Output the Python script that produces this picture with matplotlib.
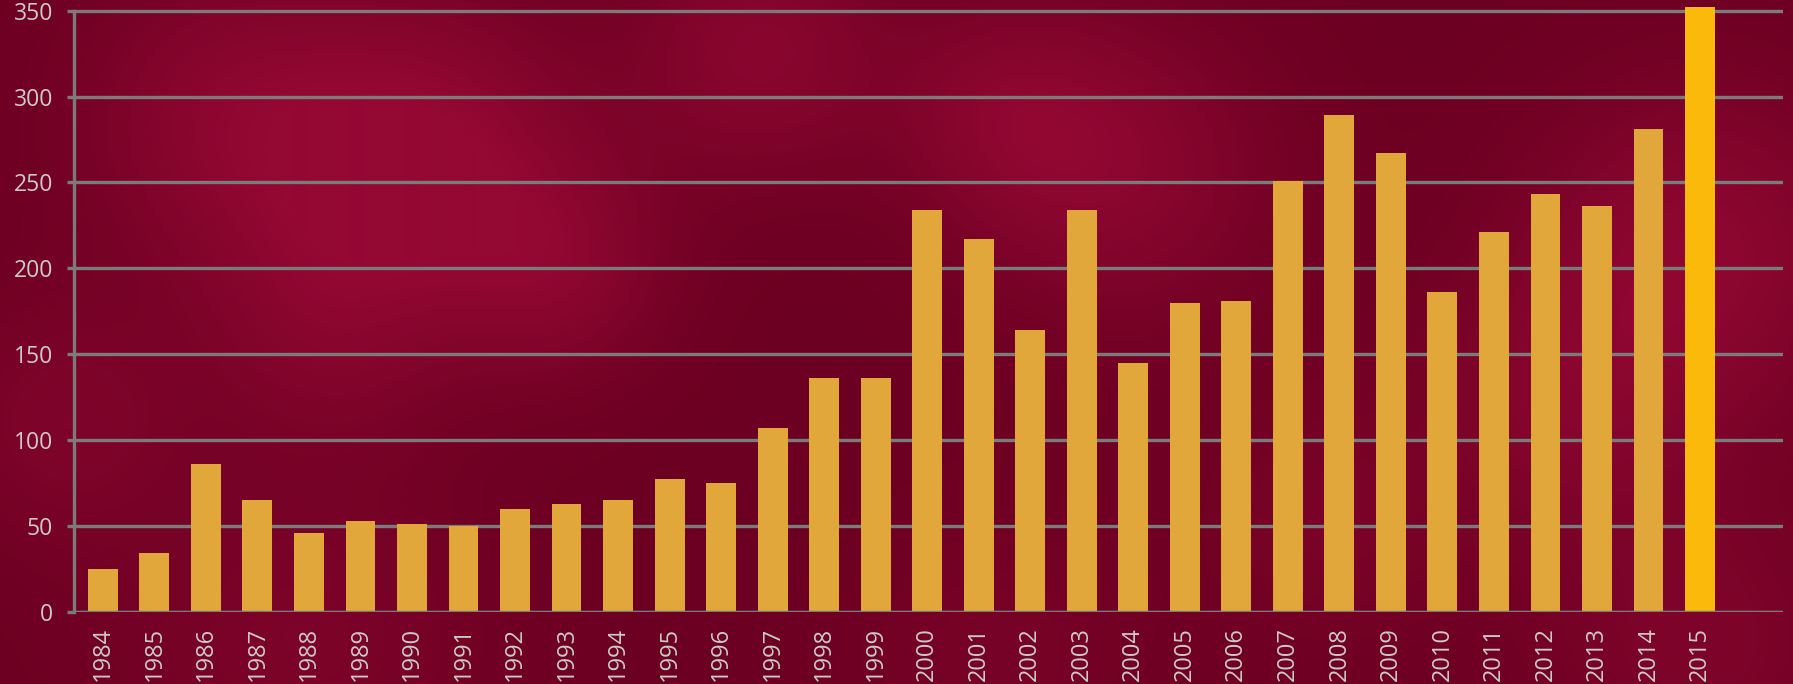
import numpy as np
import matplotlib.pyplot as plt
from matplotlib.colors import LinearSegmentedColormap

years = [str(y) for y in range(1984, 2016)]
counts = [25, 34, 86, 65, 46, 53, 51, 50, 60, 63, 65, 77, 75, 107, 136, 136,
          234, 217, 164, 234, 145, 180, 181, 251, 289, 267, 186, 221, 243, 236,
          281, 352]
yticks = [0, 50, 100, 150, 200, 250, 300, 350]

bar_color = '#e2a73a'
last_color = '#fbb90b'
grid_color = '#7b7b7b'
text_color = '#cdcaca'

plt.rcParams['font.family'] = ['Open Sans', 'DejaVu Sans']

W, H = 1793, 684
fig = plt.figure(figsize=(W / 100, H / 100), dpi=100)

# cloudy crimson backdrop
bg = fig.add_axes([0, 0, 1, 1])
yy, xx = np.mgrid[0:H:2, 0:W:2]
clouds = [(230, 120, 110, 0.7), (430, 150, 110, 0.9), (560, 270, 80, 0.6),
          (330, 320, 90, 0.5), (760, 50, 90, 0.7), (1120, 170, 110, 0.7),
          (1000, 110, 80, 0.5), (1700, 250, 120, 0.8), (1560, 400, 100, 0.5),
          (300, 640, 130, 0.4), (1700, 640, 110, 0.45), (60, 420, 90, 0.45),
          (1000, 650, 100, 0.3), (1330, 520, 90, 0.35)]
field = np.zeros_like(xx, dtype=float)
for cx, cy, s, a in clouds:
    field += a * np.exp(-((xx - cx) ** 2 + (yy - cy) ** 2) / (2 * s ** 2))
field = np.clip(field, 0, 1)
cmap = LinearSegmentedColormap.from_list('crimson', ['#6c0022', '#940834'])
bg.imshow(field, cmap=cmap, vmin=0, vmax=1, aspect='auto',
          extent=(0, W, H, 0), interpolation='bilinear')
bg.axis('off')

left, right = 74 / W, 1783 / W
bottom, top = 1 - 611.7 / H, 1 - 4.7 / H
ax = fig.add_axes([left, bottom, right - left, top - bottom])
ax.patch.set_alpha(0)

x = np.arange(len(years))
colors = [bar_color] * (len(years) - 1) + [last_color]
ax.bar(x, counts, width=0.58, color=colors, zorder=3)

ax.set_xlim(-0.56, len(years) - 1 + 1.61)
ax.set_ylim(0, 353.5)
ax.set_yticks(yticks)
ax.set_yticklabels([str(t) for t in yticks])
ax.set_xticks(x)
ax.set_xticklabels(years, rotation=90)

ax.yaxis.grid(True, color=grid_color, linewidth=2.4, zorder=1)
ax.xaxis.grid(False)
ax.set_axisbelow(True)

for side in ['top', 'right', 'bottom']:
    ax.spines[side].set_visible(False)
ax.spines['left'].set_color(grid_color)
ax.spines['left'].set_linewidth(2.4)
ax.spines['left'].set_bounds(0, 350)
ax.axhline(0, color=grid_color, linewidth=2.4, zorder=4)

ax.tick_params(axis='y', length=5, width=2.4, color=grid_color,
               labelcolor=text_color, labelsize=16.5, pad=10)
ax.tick_params(axis='x', length=0, labelcolor=text_color, labelsize=17, pad=11)

fig.savefig('out.png', dpi=100)
